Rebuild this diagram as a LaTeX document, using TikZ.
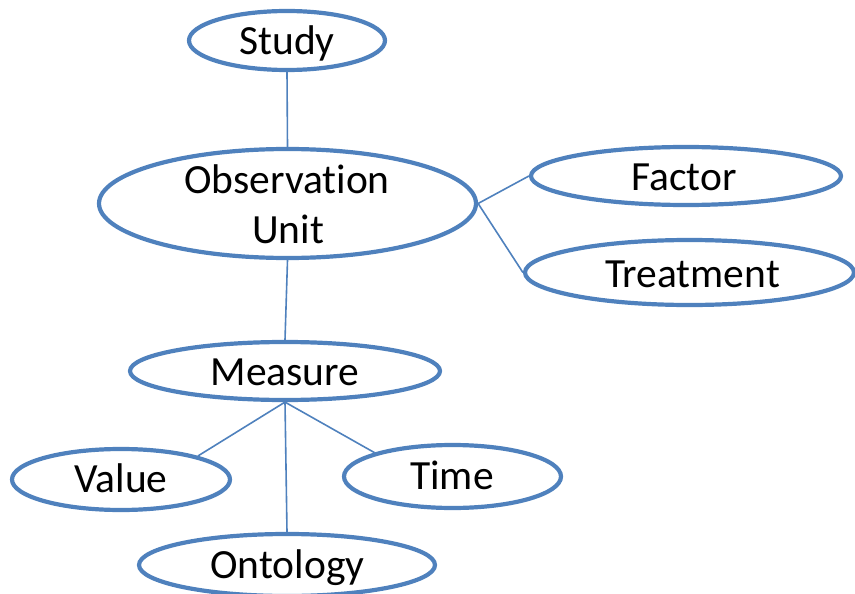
\documentclass[tikz,border=0pt]{standalone}
\usepackage{fontspec}
\setmainfont{Carlito}[Ligatures={NoCommon}]
\usetikzlibrary{shapes.geometric}
\definecolor{obblue}{RGB}{79,129,189}
\begin{document}
\begin{tikzpicture}[x=1pt,y=-1pt,
  entity/.style={ellipse, draw=obblue, line width=4.2pt, inner sep=0pt, fill=white},
  txt/.style={anchor=base, inner sep=0pt, font=\fontsize{41.5}{50}\selectfont},
  link/.style={draw=obblue, line width=1.6pt}]
\useasboundingbox (0,0) rectangle (855,594);
\clip (0,0) rectangle (855,594);
% ellipses
\node[entity, minimum width=196pt, minimum height=59pt] (study) at (287,40.5) {};
\node[entity, minimum width=377pt, minimum height=109pt] (obs) at (287.5,203.5) {};
\node[entity, minimum width=310pt, minimum height=58pt] (factor) at (686,176) {};
\node[entity, minimum width=329pt, minimum height=65pt] (treat) at (689.5,272.5) {};
\node[entity, minimum width=310pt, minimum height=58pt] (measure) at (285,371) {};
\node[entity, minimum width=218pt, minimum height=61pt] (value) at (121,479.5) {};
\node[entity, minimum width=217pt, minimum height=63pt] (time) at (452.5,476.5) {};
\node[entity, minimum width=296pt, minimum height=62pt] (onto) at (287,565) {};
% connectors
\draw[link] (study.south) -- (obs.north);
\draw[link] (obs.east) -- (factor.west);
\draw[link] (obs.east) -- (treat.west);
\draw[link] (obs.south) -- (measure.north);
\draw[link] (measure.south) -- (value.17);
\draw[link] (measure.south) -- (time.163);
\draw[link] (measure.south) -- (onto.north);
% texts
\node[txt] (studyT) at (287,55) {Study};
\node[txt] (obsT1) at (287,193) {Observation};
\node[txt] (obsT2) at (288,243) {Unit};
\node[txt] (factorT) at (684,190) {Factor};
\node[txt] (treatT) at (692.5,287) {Treatment};
\node[txt] (measureT) at (285,385) {Measure};
\node[txt] (valueT) at (121,492) {Value};
\node[txt] (timeT) at (452,489) {Time};
\node[txt] (ontoT) at (287.5,578) {Ontology};
\end{tikzpicture}
\end{document}
